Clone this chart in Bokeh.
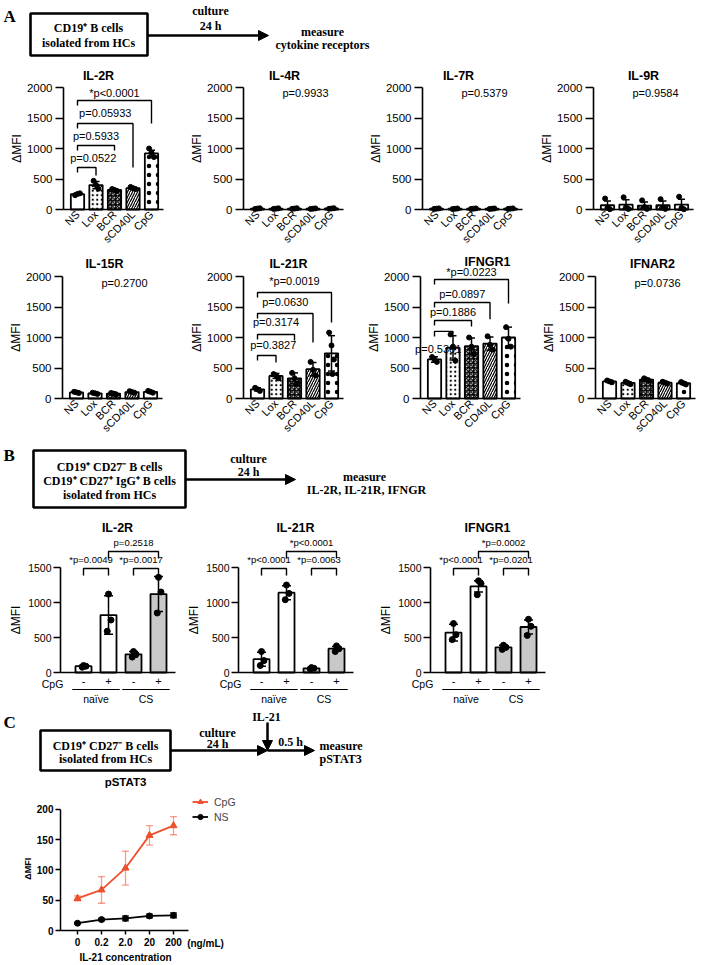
import numpy as np
from bokeh.plotting import figure
from bokeh.models import (Range1d, FixedTicker, ColumnDataSource, Whisker, TeeHead,
                          Arrow, NormalHead, Legend, LegendItem)
from bokeh.layouts import column, row
from bokeh.embed import file_html
from bokeh.resources import INLINE
from bokeh.core.properties import value

SANS = "Liberation Sans"
SERIF = "Liberation Serif"

# ======================= DATA =======================
stim = ["NS", "Lox", "BCR", "sCD40L", "CpG"]
stim_ifngr1 = ["NS", "Lox", "BCR", "CD40L", "CpG"]
yticks_A = [0, 500, 1000, 1500, 2000]

# Panel A, first row
il2r_mean = [250, 400, 320, 350, 920]
il2r_sd = [15, 60, 20, 20, 50]
il2r_pts = [[235, 255, 265], [470, 400, 340], [335, 320, 305], [370, 350, 335], [1000, 930, 860]]
il2r_p = [("CpG", "*p<0.0001"), ("sCD40L", "p=0.05933"), ("BCR", "p=0.5933"), ("Lox", "p=0.0522")]

il4r_mean = [15, 14, 15, 14, 16]
il4r_sd = [4, 4, 4, 4, 4]
il4r_pts = [[10, 15, 20], [10, 14, 19], [11, 15, 20], [10, 14, 18], [12, 16, 21]]
il4r_p = "p=0.9933"

il7r_mean = [14, 12, 14, 13, 14]
il7r_sd = [4, 4, 4, 4, 4]
il7r_pts = [[10, 14, 18], [8, 12, 16], [10, 14, 18], [9, 13, 17], [10, 14, 18]]
il7r_p = "p=0.5379"

il9r_mean = [70, 80, 65, 70, 80]
il9r_sd = [70, 80, 60, 70, 90]
il9r_pts = [[180, 30, 5], [200, 35, 10], [150, 40, 10], [170, 30, 10], [210, 25, 5]]
il9r_p = "p=0.9584"

# Panel A, second row
il15r_mean = [100, 85, 80, 105, 110]
il15r_sd = [10, 8, 10, 12, 12]
il15r_pts = [[110, 100, 90], [95, 85, 75], [90, 80, 70], [120, 105, 95], [125, 110, 95]]
il15r_p = "p=0.2700"

il21r_mean = [150, 370, 330, 480, 740]
il21r_sd = [25, 40, 90, 110, 290]
il21r_pts = [[175, 150, 125], [400, 380, 330], [420, 330, 240], [600, 470, 380], [1080, 870, 640, 400]]
il21r_p = [("CpG", "*p=0.0019"), ("sCD40L", "p=0.0630"), ("BCR", "p=0.3174"), ("Lox", "p=0.3827")]

ifngr1_mean = [640, 830, 860, 900, 1000]
ifngr1_sd = [45, 200, 130, 110, 170]
ifngr1_pts = [[680, 640, 600], [1050, 850, 620], [1000, 850, 730], [1020, 880, 800], [1170, 980, 850]]
ifngr1_p = [("CpG", "*p=0.0223"), ("CD40L", "p=0.0897"), ("BCR", "p=0.1886"), ("Lox", "p=0.5301")]

ifnar2_mean = [280, 255, 310, 260, 250]
ifnar2_sd = [15, 20, 20, 15, 20]
ifnar2_pts = [[295, 280, 265], [275, 255, 235], [330, 310, 290], [275, 260, 245], [270, 250, 230]]
ifnar2_p = "p=0.0736"

# Panel B
b_cpg = ["-", "+", "-", "+"]
b_groups = ["naïve", "CS"]
yticks_B = [0, 500, 1000, 1500]

b_il2r_mean = [90, 820, 260, 1120]
b_il2r_sd = [15, 275, 40, 250]
b_il2r_pts = [[100, 90, 75], [1120, 750, 590], [300, 260, 220], [1360, 1150, 850]]
b_il2r_p = [(0, 1, "*p=0.0049"), (2, 3, "*p=0.0017"), (1, 3, "p=0.2518")]

b_il21r_mean = [190, 1140, 60, 340]
b_il21r_sd = [100, 100, 10, 30]
b_il21r_pts = [[300, 170, 100], [1250, 1130, 1040], [70, 60, 50], [380, 340, 300]]
b_il21r_p = [(0, 1, "*p<0.0001"), (2, 3, "*p=0.0063"), (1, 3, "*p<0.0001")]

b_ifngr1_mean = [570, 1230, 360, 650]
b_ifngr1_sd = [120, 80, 30, 100]
b_ifngr1_pts = [[700, 540, 470], [1310, 1270, 1110], [390, 360, 330], [760, 660, 530]]
b_ifngr1_p = [(0, 1, "*p<0.0001"), (2, 3, "*p=0.0201"), (1, 3, "*p=0.0002")]

# Panel C
il21_conc = ["0", "0.2", "2.0", "20", "200"]
yticks_C = [0, 50, 100, 150, 200]
pstat3_cpg = [53, 67, 103, 157, 173]
pstat3_cpg_sd = [4, 22, 28, 16, 15]
pstat3_ns = [12, 18, 20, 24, 25]
pstat3_ns_sd = [1, 2, 4, 3, 4]

# ======================= STYLE / LAYOUT =======================
A_FILL = ["white"] * 5
A_HATCH = ["blank", "dot", "criss_cross", "right_diagonal_line", "dot"]
A_HSCALE = [6, 4.5, 4.5, 5, 9]
B_FILL = ["white", "white", "#C8C8C8", "#C8C8C8"]
B_HATCH = ["blank"] * 4
B_HSCALE = [6] * 4
RED = "#EE4F2C"


def base_fig(width, height, xs, xe, ys, ye, axes=True):
    kw = {}
    if not axes:
        kw = dict(x_axis_location=None, y_axis_location=None)
    p = figure(width=width, height=height, x_range=Range1d(xs, xe), y_range=Range1d(ys, ye),
               output_backend="svg", toolbar_location=None, min_border=0,
               outline_line_color=None, title=None, **kw)
    p.grid.visible = False
    p.background_fill_color = "white"
    p.border_fill_color = "white"
    return p


def data_fig(width, height, x_px, x_val, sx, y_px, y_val, sy):
    xs = x_val - x_px / sx
    ye = y_val + y_px / sy
    return base_fig(width, height, xs, xs + width / sx, ye - height / sy, ye)


def add_text(p, x, y, s, size, font=SANS, bold=False, align="center", angle=0.0,
             color="black", baseline="middle"):
    p.text(x=[x], y=[y], text=[s], text_font=value(font), text_font_size=size,
           text_font_style="bold" if bold else "normal", text_align=align,
           text_baseline=baseline, angle=angle, text_color=color)


def style_axis(ax, size, bold=False, lw=1.6):
    ax.axis_line_width = lw
    ax.axis_line_color = "black"
    ax.major_tick_line_width = lw
    ax.major_tick_line_color = "black"
    ax.minor_tick_line_color = None
    ax.major_label_text_font = SANS
    ax.major_label_text_font_size = size
    ax.major_label_text_color = "black"
    ax.major_label_text_font_style = "bold" if bold else "normal"


def bars(p, means, sds, pts, fills, hatches, hscales, bw, cap, dot, jit):
    n = len(means)
    src = ColumnDataSource(dict(x=list(range(n)), top=means, fill=fills, hatch=hatches,
                                hs=hscales,
                                lo=[m - s for m, s in zip(means, sds)],
                                hi=[m + s for m, s in zip(means, sds)]))
    p.vbar(x="x", top="top", bottom=0, width=bw, source=src, fill_color="fill",
           line_color="black", line_width=1.8, hatch_pattern="hatch", hatch_scale="hs",
           hatch_color="black", hatch_weight=1.2)
    w = Whisker(source=src, base="x", upper="hi", lower="lo", line_width=1.5,
                line_color="black",
                upper_head=TeeHead(size=cap, line_width=1.5, line_color="black"),
                lower_head=TeeHead(size=cap, line_width=1.5, line_color="black"))
    w.level = "annotation"
    p.add_layout(w)
    px, py = [], []
    for i, vals in enumerate(pts):
        for k, v in enumerate(vals):
            px.append(i + jit[k % len(jit)])
            py.append(v)
    p.scatter(px, py, size=dot, fill_color="black", line_color="black")


# ---------- Panel A charts ----------
A_SX, A_SY = 18.5, 0.061
A_OFF, A_XLEN = 14, 100


def chart_A(title, labels, mean, sd, pts, pv, width, height, axis_px, zero_px,
            title_dx, title_px, geom=None):
    p = data_fig(width, height, axis_px + A_OFF, 0, A_SX, zero_px, 0, A_SY)
    x_ax = -A_OFF / A_SX
    x_end = (A_XLEN - A_OFF) / A_SX
    ya = p.yaxis[0]
    style_axis(ya, "11.5px")
    ya.fixed_location = x_ax
    ya.bounds = (0, 2000)
    ya.ticker = FixedTicker(ticks=yticks_A)
    ya.major_tick_out = 8
    ya.major_tick_in = 0
    ya.major_label_standoff = 3
    xa = p.xaxis[0]
    style_axis(xa, "11px")
    xa.fixed_location = 0
    xa.bounds = (x_ax, x_end)
    xa.ticker = FixedTicker(ticks=list(range(len(labels))))
    xa.major_label_overrides = {i: l for i, l in enumerate(labels)}
    xa.major_tick_out = 0
    xa.major_tick_in = 0
    xa.major_label_orientation = np.pi / 4
    xa.major_label_standoff = 3

    bars(p, mean, sd, pts, A_FILL, A_HATCH, A_HSCALE, 0.72, 7, 5, [-0.13, 0.0, 0.13, 0.05])

    add_text(p, x_ax - 47 / A_SX, 1000, "ΔMFI", "12px", angle=np.pi / 2)
    add_text(p, x_ax + title_dx / A_SX, (zero_px - title_px) / A_SY, title, "12.5px", bold=True)
    if isinstance(pv, str):
        add_text(p, x_ax + 62 / A_SX, (zero_px - 30) / A_SY, pv, "11px")
    else:
        levels, rends, texts, txs = geom
        for (lab, txt), lev, rend, ty, tx in zip(pv, levels, rends, texts, txs):
            j = labels.index(lab)
            p.line([0, 0, j, j], [lev - 5 / A_SY, lev, lev, rend], line_color="black",
                   line_width=1.4)
            cx = max(j / 2, 0.85) if tx is None else tx
            add_text(p, cx, ty, txt, "11px")
    return p


# ---------- Panel B charts ----------
B_SX, B_SY = 25, 0.07
B_OFF, B_XLEN = 23, 115


def chart_B(title, mean, sd, pts, comps, width, height, axis_px, zero_px):
    p = data_fig(width, height, axis_px + B_OFF, 0, B_SX, zero_px, 0, B_SY)
    x_ax = -B_OFF / B_SX
    x_end = (B_XLEN - B_OFF) / B_SX
    ya = p.yaxis[0]
    style_axis(ya, "10.5px")
    ya.fixed_location = x_ax
    ya.bounds = (0, 1500)
    ya.ticker = FixedTicker(ticks=yticks_B)
    ya.major_tick_out = 7
    ya.major_tick_in = 0
    ya.major_label_standoff = 2
    xa = p.xaxis[0]
    style_axis(xa, "11px")
    xa.fixed_location = 0
    xa.bounds = (x_ax, x_end)
    xa.ticker = FixedTicker(ticks=list(range(len(b_cpg))))
    xa.major_label_overrides = {i: l for i, l in enumerate(b_cpg)}
    xa.major_tick_out = 0
    xa.major_tick_in = 0
    xa.major_label_standoff = 4

    bars(p, mean, sd, pts, B_FILL, B_HATCH, B_HSCALE, 0.64, 9, 6, [0.0, 0.1, -0.05])

    add_text(p, x_ax - 45 / B_SX, 750, "ΔMFI", "12px", angle=np.pi / 2)
    add_text(p, x_ax + 57 / B_SX, (zero_px - 12) / B_SY, title, "12.5px", bold=True)
    add_text(p, x_ax - 8 / B_SX, -11 / B_SY, "CpG", "10.5px")
    for g, name in enumerate(b_groups):
        c0, c1 = 2 * g, 2 * g + 1
        p.line([c0 - 0.45, c1 + 0.45], [-17 / B_SY, -17 / B_SY], line_color="black",
               line_width=1.2)
        add_text(p, (c0 + c1) / 2, -26 / B_SY, name, "10.5px")
    for i, j, txt in comps:
        upper = (j - i) > 1
        lev = (121 if upper else 104) / B_SY
        p.line([i, i, j, j], [lev - 7 / B_SY, lev, lev, lev - 7 / B_SY],
               line_color="black", line_width=1.4)
        shift = 0 if upper else -0.2
        add_text(p, (i + j) / 2 + shift, lev + 9 / B_SY, txt, "9.5px")
    return p


# ---------- Diagrams ----------
def diag_fig(page_top, height, width=709):
    return base_fig(width, height, 0, width, page_top + height, page_top, axes=False)


def box(p, l, r, t, b):
    p.quad(left=[l], right=[r], top=[t], bottom=[b], fill_color=None, line_color="black",
           line_width=2.6)


def arrow(p, x0, y0, x1, y1):
    p.add_layout(Arrow(end=NormalHead(size=10, fill_color="black", line_color="black"),
                       x_start=x0, y_start=y0, x_end=x1, y_end=y1, line_width=2.5,
                       line_color="black"))


def serif(p, x, y, s, size="12px", align="center"):
    add_text(p, x, y, s, size, font=SERIF, bold=True, align=align)


dA = diag_fig(0, 62)
serif(dA, 3, 16, "A", "17px", align="left")
box(dA, 30, 147, 13, 55)
serif(dA, 88, 27, "CD19⁺ B cells")
serif(dA, 88, 42, "isolated from HCs")
arrow(dA, 147, 35, 268, 35)
serif(dA, 210, 10, "culture")
serif(dA, 210, 25, "24 h")
serif(dA, 322, 31, "measure")
serif(dA, 322, 44, "cytokine receptors")

dB = diag_fig(441, 74)
serif(dB, 3, 455, "B", "17px", align="left")
box(dB, 33, 185, 450, 507)
serif(dB, 109, 466, "CD19⁺ CD27⁻ B cells")
serif(dB, 109, 480, "CD19⁺ CD27⁺ IgG⁺ B cells")
serif(dB, 109, 494, "isolated from HCs")
arrow(dB, 185, 479, 295, 479)
serif(dB, 248, 458, "culture")
serif(dB, 248, 471, "24 h")
serif(dB, 364, 476, "measure")
serif(dB, 366, 489, "IL-2R, IL-21R, IFNGR")

dC = diag_fig(705, 68)
serif(dC, 3, 722, "C", "17px", align="left")
box(dC, 40, 170, 730, 770)
serif(dC, 105, 745, "CD19⁺ CD27⁻ B cells")
serif(dC, 105, 758, "isolated from HCs")
arrow(dC, 170, 750, 267, 750)
serif(dC, 217, 732, "culture")
serif(dC, 217, 743, "24 h")
serif(dC, 266, 716, "IL-21")
arrow(dC, 267, 722, 267, 750)
arrow(dC, 267, 750, 314, 750)
serif(dC, 290, 741, "0.5 h")
serif(dC, 319, 745, "measure", align="left")
serif(dC, 319, 758, "pSTAT3", align="left")

# ---------- Panel A rows ----------
a1 = row(
    chart_A("IL-2R", stim, il2r_mean, il2r_sd, il2r_pts, il2r_p, 188, 190, 63, 147, 35, 13,
            geom=([1787, 1410, 1049, 689], [1410, 689, 967, 557],
                  [1918, 1574, 1213, 852], [None] * 4)),
    chart_A("IL-4R", stim, il4r_mean, il4r_sd, il4r_pts, il4r_p, 179, 190, 55, 147, 41, 13),
    chart_A("IL-7R", stim, il7r_mean, il7r_sd, il7r_pts, il7r_p, 168, 190, 55, 147, 36, 13),
    chart_A("IL-9R", stim, il9r_mean, il9r_sd, il9r_pts, il9r_p, 174, 190, 58, 147, 50, 13),
)
a2 = row(
    chart_A("IL-15R", stim, il15r_mean, il15r_sd, il15r_pts, il15r_p, 188, 189, 62, 146, 42, 11),
    chart_A("IL-21R", stim, il21r_mean, il21r_sd, il21r_pts, il21r_p, 179, 189, 55, 146, 45, 11,
            geom=([1738, 1393, 1049, 705], [1246, 918, 950, 590],
                  [1934, 1590, 1246, 869], [None] * 4)),
    chart_A("IFNGR1", stim_ifngr1, ifngr1_mean, ifngr1_sd, ifngr1_pts, ifngr1_p, 168, 189, 53,
            146, 67, 9,
            geom=([1951, 1574, 1279, 1100], [1557, 1300, 1180, 1060],
                  [2075, 1705, 1410, 810], [None, None, None, 0.2])),
    chart_A("IFNAR2", stim, ifnar2_mean, ifnar2_sd, ifnar2_pts, ifnar2_p, 174, 189, 60, 146, 57, 11),
)

# ---------- Panel B row ----------
brow = row(
    chart_B("IL-2R", b_il2r_mean, b_il2r_sd, b_il2r_pts, b_il2r_p, 185, 190, 60, 157),
    chart_B("IL-21R", b_il21r_mean, b_il21r_sd, b_il21r_pts, b_il21r_p, 185, 190, 53, 157),
    chart_B("IFNGR1", b_ifngr1_mean, b_ifngr1_sd, b_ifngr1_pts, b_ifngr1_p, 200, 190, 60, 157),
)

# ---------- Panel C chart ----------
C_SX, C_SY = 24, 0.606
pc = data_fig(268, 190, 77, 0, C_SX, 157, 0, C_SY)
cx_ax = (60 - 77) / C_SX
cx_end = (188 - 77) / C_SX
ya = pc.yaxis[0]
style_axis(ya, "10px", bold=True, lw=1.5)
ya.fixed_location = cx_ax
ya.bounds = (0, 200)
ya.ticker = FixedTicker(ticks=yticks_C)
ya.major_tick_out = 5
ya.major_tick_in = 0
ya.major_label_standoff = 2
xa = pc.xaxis[0]
style_axis(xa, "10px", bold=True, lw=1.5)
xa.fixed_location = 0
xa.bounds = (cx_ax, cx_end)
xa.ticker = FixedTicker(ticks=list(range(len(il21_conc))))
xa.major_label_overrides = {i: l for i, l in enumerate(il21_conc)}
xa.major_tick_out = 4
xa.major_tick_in = 0
xa.major_label_standoff = 3

xc = list(range(len(il21_conc)))
src_cpg = ColumnDataSource(dict(x=xc, y=pstat3_cpg,
                                lo=[m - s for m, s in zip(pstat3_cpg, pstat3_cpg_sd)],
                                hi=[m + s for m, s in zip(pstat3_cpg, pstat3_cpg_sd)]))
src_ns = ColumnDataSource(dict(x=xc, y=pstat3_ns,
                               lo=[m - s for m, s in zip(pstat3_ns, pstat3_ns_sd)],
                               hi=[m + s for m, s in zip(pstat3_ns, pstat3_ns_sd)]))
for src, col, alpha in ((src_cpg, RED, 0.55), (src_ns, "black", 0.8)):
    w = Whisker(source=src, base="x", upper="hi", lower="lo", line_width=1.3,
                line_color=col, line_alpha=alpha,
                upper_head=TeeHead(size=7, line_width=1.3, line_color=col, line_alpha=alpha),
                lower_head=TeeHead(size=7, line_width=1.3, line_color=col, line_alpha=alpha))
    pc.add_layout(w)
l_cpg = pc.line("x", "y", source=src_cpg, line_color=RED, line_width=1.8)
s_cpg = pc.scatter("x", "y", source=src_cpg, marker="triangle", size=7, fill_color=RED,
                   line_color=RED)
l_ns = pc.line("x", "y", source=src_ns, line_color="black", line_width=1.8)
s_ns = pc.scatter("x", "y", source=src_ns, marker="circle", size=6, fill_color="black",
                  line_color="black")
add_text(pc, 2, (157 - 8) / C_SY, "pSTAT3", "11.5px", bold=True)
add_text(pc, (27 - 77) / C_SX, 102, "ΔMFI", "9px", bold=True, angle=np.pi / 2)
add_text(pc, (205 - 77) / C_SX, -13 / C_SY, "(ng/mL)", "10px", bold=True)
add_text(pc, 2, -27 / C_SY, "IL-21 concentration", "10px", bold=True)
leg = Legend(items=[LegendItem(label="CpG", renderers=[l_cpg, s_cpg]),
                    LegendItem(label="NS", renderers=[l_ns, s_ns])],
             location=(192, 140), padding=0, margin=0, spacing=2, glyph_width=16,
             glyph_height=13, label_height=13, label_standoff=6,
             label_text_font=SANS, label_text_font_size="10.5px",
             border_line_color=None, background_fill_alpha=0)
pc.add_layout(leg)

layout = column(dA, a1, a2, dB, brow, dC, row(pc))

with open("out.html", "w") as f:
    f.write(file_html(layout, INLINE))
